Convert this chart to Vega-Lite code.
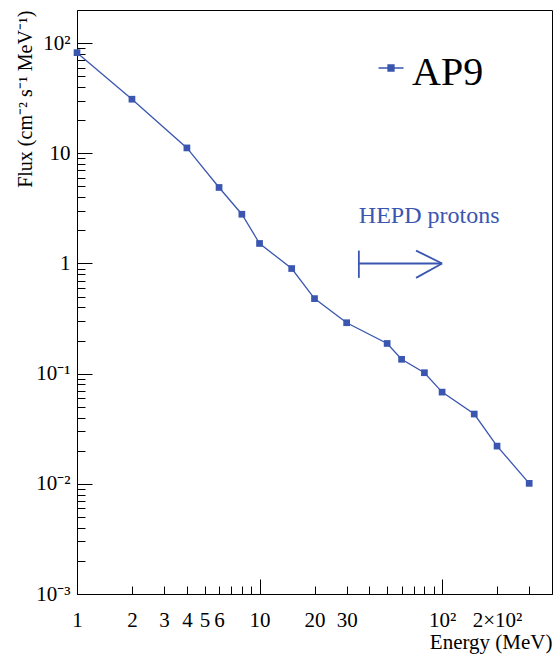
{
  "$schema": "https://vega.github.io/schema/vega-lite/v6.json",
  "width": 475,
  "height": 584,
  "autosize": {"type": "none"},
  "padding": {"left": 77, "top": 10, "right": 3, "bottom": 60},
  "background": "white",
  "config": {
    "view": {"stroke": "black", "strokeWidth": 1},
    "font": "Liberation Serif",
    "axis": {
      "domainColor": "black",
      "domainWidth": 1,
      "tickColor": "black",
      "tickWidth": 1,
      "grid": false,
      "labelFont": "Liberation Serif",
      "labelColor": "black",
      "titleFont": "Liberation Serif",
      "titleColor": "black",
      "titleFontWeight": "normal",
      "labelOverlap": false,
      "labelFlush": false
    }
  },
  "datasets": {
    "ap9": [
      {"series": "AP9", "energy": 1, "flux": 82},
      {"series": "AP9", "energy": 2, "flux": 31},
      {"series": "AP9", "energy": 4, "flux": 11.2},
      {"series": "AP9", "energy": 6, "flux": 4.9},
      {"series": "AP9", "energy": 8, "flux": 2.8},
      {"series": "AP9", "energy": 10, "flux": 1.52},
      {"series": "AP9", "energy": 15, "flux": 0.9},
      {"series": "AP9", "energy": 20, "flux": 0.48},
      {"series": "AP9", "energy": 30, "flux": 0.29},
      {"series": "AP9", "energy": 50, "flux": 0.188},
      {"series": "AP9", "energy": 60, "flux": 0.135},
      {"series": "AP9", "energy": 80, "flux": 0.102},
      {"series": "AP9", "energy": 100, "flux": 0.068},
      {"series": "AP9", "energy": 150, "flux": 0.043},
      {"series": "AP9", "energy": 200, "flux": 0.022},
      {"series": "AP9", "energy": 300, "flux": 0.0101}
    ],
    "arrow": [
      {"energy": 35, "flux": 1, "energy2": 100, "flux2": 1},
      {"energy": 35, "flux": 0.74, "energy2": 35, "flux2": 1.31},
      {"energy": 72, "flux": 1.31, "energy2": 100, "flux2": 1},
      {"energy": 72, "flux": 0.74, "energy2": 100, "flux2": 1}
    ],
    "note": [{"label": "HEPD protons", "energy": 35, "flux": 2.7}]
  },
  "encoding": {
    "x": {
      "field": "energy",
      "type": "quantitative",
      "scale": {"type": "log", "domain": [1, 400], "nice": false},
      "axis": {
        "title": "Energy (MeV)",
        "titleAnchor": "end",
        "titleAlign": "right",
        "titleFontSize": 21,
        "titlePadding": 1,
        "labelFontSize": 21,
        "labelPadding": {"condition": {"test": "indexof([1,10,100], datum.value) >= 0", "value": 30}, "value": 23},
        "values": [1, 2, 3, 4, 5, 6, 7, 8, 9, 10, 20, 30, 40, 50, 60, 70, 80, 90, 100, 200, 300],
        "labelExpr": "indexof([1,2,3,4,5,6,10,20,30], datum.value) >= 0 ? '' + datum.value : datum.value == 100 ? '10²' : datum.value == 200 ? '2×10²' : ''",
        "tickSize": {"condition": {"test": "indexof([1,10,100], datum.value) >= 0", "value": -15}, "value": -8}
      }
    },
    "y": {
      "field": "flux",
      "type": "quantitative",
      "scale": {"type": "log", "domain": [0.001, 200], "nice": false},
      "axis": {
        "title": "Flux (cm⁻² s⁻¹ MeV⁻¹)",
        "titleAnchor": "end",
        "titleAlign": "right",
        "titleFontSize": 20,
        "titlePadding": 0,
        "labelFontSize": 21,
        "labelPadding": {"condition": {"test": "indexof([0.001,0.01,0.1,1,10,100], datum.value) >= 0", "value": 22}, "value": 15},
        "values": [0.001, 0.002, 0.003, 0.004, 0.005, 0.006, 0.007, 0.008, 0.009, 0.01, 0.02, 0.03, 0.04, 0.05, 0.06, 0.07, 0.08, 0.09, 0.1, 0.2, 0.3, 0.4, 0.5, 0.6, 0.7, 0.8, 0.9, 1, 2, 3, 4, 5, 6, 7, 8, 9, 10, 20, 30, 40, 50, 60, 70, 80, 90, 100],
        "labelExpr": "datum.value == 100 ? '10²' : datum.value == 10 ? '10' : datum.value == 1 ? '1' : datum.value == 0.1 ? '10⁻¹' : datum.value == 0.01 ? '10⁻²' : datum.value == 0.001 ? '10⁻³' : ''",
        "tickSize": {"condition": {"test": "indexof([0.001,0.01,0.1,1,10,100], datum.value) >= 0", "value": -15}, "value": -8}
      }
    }
  },
  "layer": [
    {
      "data": {"name": "ap9"},
      "mark": {"type": "line", "strokeWidth": 1.3, "clip": false},
      "encoding": {
        "color": {
          "field": "series",
          "type": "nominal",
          "scale": {"range": ["#3a56b0"]},
          "legend": {
            "title": null,
            "orient": "none",
            "legendX": 294,
            "legendY": 38,
            "symbolType": "M-1,0H1M-0.24,-0.24H0.24V0.24H-0.24Z",
            "symbolSize": 625,
            "symbolStrokeWidth": 1.3,
            "labelFont": "Liberation Serif",
            "labelFontSize": 40,
            "labelColor": "black",
            "labelOffset": 1,
            "encode": {
              "symbols": {"update": {"fill": {"value": "#3a56b0"}, "stroke": {"value": "#3a56b0"}, "opacity": {"value": 1}}},
              "labels": {"update": {"dy": {"value": 5}}}
            }
          }
        }
      }
    },
    {
      "data": {"name": "ap9"},
      "mark": {"type": "point", "shape": "square", "filled": true, "size": 45, "opacity": 1, "clip": false},
      "encoding": {
        "color": {"field": "series", "type": "nominal", "legend": null}
      }
    },
    {
      "data": {"name": "arrow"},
      "mark": {"type": "rule", "color": "#3a56b0", "strokeWidth": 1.8},
      "encoding": {
        "x2": {"field": "energy2"},
        "y2": {"field": "flux2"}
      }
    },
    {
      "data": {"name": "note"},
      "mark": {"type": "text", "color": "#3a56b0", "font": "Liberation Serif", "fontSize": 24, "align": "left", "baseline": "middle"},
      "encoding": {
        "text": {"field": "label"}
      }
    }
  ]
}
